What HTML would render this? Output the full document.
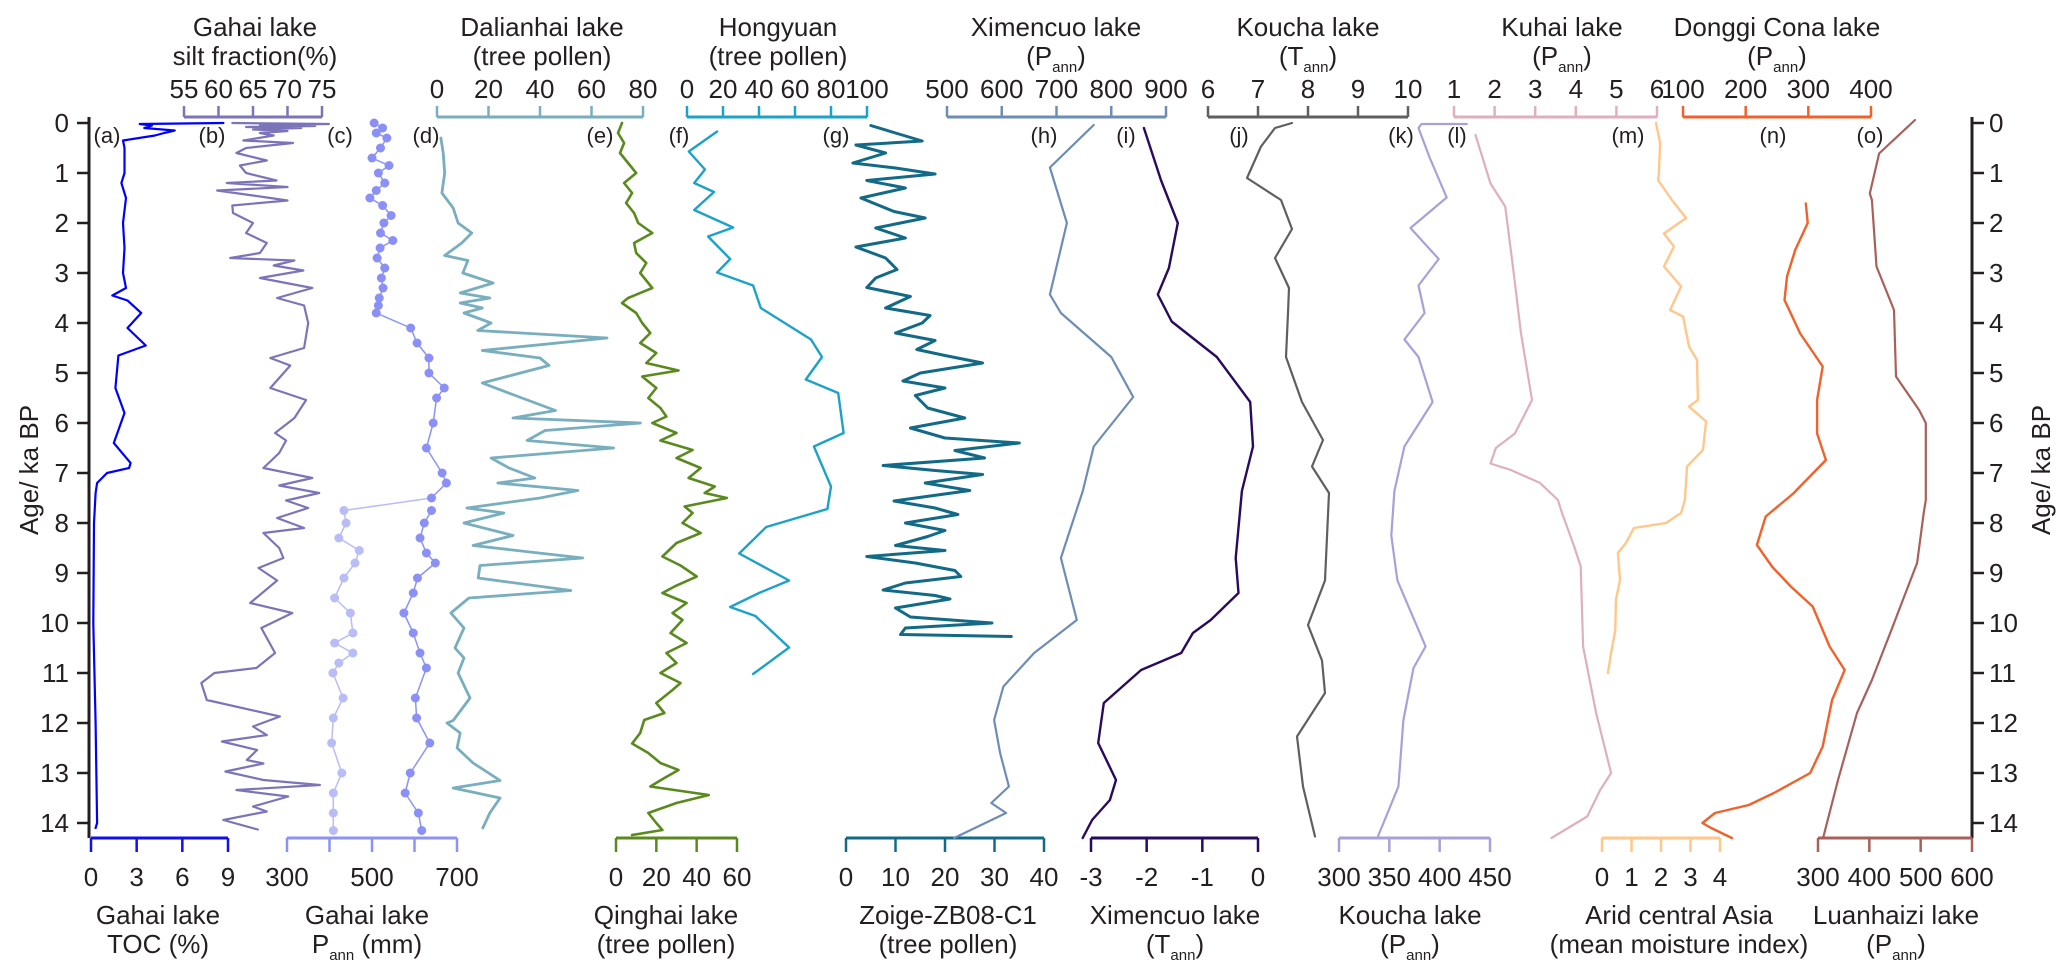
<!DOCTYPE html>
<html><head><meta charset="utf-8"><style>
html,body{margin:0;padding:0;background:#fff;}
svg{display:block;font-family:"Liberation Sans",Arial,sans-serif;}
</style></head><body>
<svg id="chart" width="2067" height="976" viewBox="0 0 2067 976" xmlns="http://www.w3.org/2000/svg">
<g id="axes"></g>
<g id="series"></g>
<g id="labels"></g>
</svg>
<script>
// ---------- data (age in ka BP, values in panel units) ----------
const ageTicks = [0,1,2,3,4,5,6,7,8,9,10,11,12,13,14];

const tocAge = [0,0.02,0.05,0.1,0.15,0.2,0.25,0.35,0.5,1,1.2,1.5,2,2.5,3,3.3,3.45,3.55,3.8,4.1,4.45,4.65,5.3,5.8,6.4,6.8,6.9,7.0,7.2,7.4,8,10,12,14,14.1];
const tocVal = [8.7,3.2,4,3.5,5.5,4.8,4.2,2.1,2.2,2.2,2.0,2.3,2.1,2.2,2.1,2.3,1.4,2.4,3.3,2.4,3.6,1.8,1.6,2.2,1.5,2.6,2.5,1.05,0.4,0.3,0.2,0.15,0.3,0.4,0.3];

const siltAge = [0,0.02,0.04,0.06,0.08,0.1,0.13,0.16,0.2,0.25,0.35,0.4,0.5,0.6,0.75,0.85,1.0,1.15,1.2,1.28,1.35,1.45,1.55,1.65,1.8,2.0,2.2,2.4,2.6,2.7,2.75,2.85,2.95,3.1,3.3,3.5,3.65,4.0,4.5,4.7,4.85,5.3,5.54,5.9,6.2,6.35,6.6,6.9,7.1,7.25,7.4,7.55,7.7,7.9,8.1,8.2,8.5,8.7,8.9,9.15,9.6,9.8,10.1,10.6,10.9,11.0,11.2,11.54,11.87,12.07,12.24,12.37,12.54,12.74,12.81,12.97,13.14,13.24,13.34,13.47,13.67,13.77,13.94,14.13];
const siltVal = [62,76,66,74,64,72,65,70,66,68,63.6,70.8,64,62.6,67,63.1,64,68.4,61.2,70,59.8,65,70,62,62.1,65,64,67,66,61.7,71,68,72.3,66,73.6,68.5,72.4,73,72.4,67.5,70.4,67.5,72.7,71,68.2,69.8,68.8,66.5,73.6,68.8,74.6,69.8,73,68.5,72.4,66.5,68.8,69.4,65.8,68.5,64.6,70.7,66.2,68.2,65.5,59.4,57.5,58.3,68.9,65,67,60.5,65.6,64.1,66.5,61,66.5,74.7,62.6,70.1,65,67,60.7,65.7];

const gpDarkAge = [0,0.1,0.2,0.3,0.5,0.7,0.85,1.0,1.2,1.35,1.5,1.65,1.85,2.0,2.2,2.35,2.5,2.7,2.9,3.1,3.3,3.5,3.65,3.8,4.1,4.4,4.7,5.0,5.3,5.5,6.0,6.5,7.0,7.2,7.5];
const gpDarkVal = [505,525,510,535,520,500,540,515,530,510,495,525,545,528,520,549,519,512,530,522,526,517,515,510,591,606,634,634,670,652,644,628,665,675,640];
const gpLightAge = [7.5,7.75,8.0,8.3,8.55,8.8,9.1,9.5,9.8,10.2,10.4,10.6,10.8,11.0,11.5,11.9,12.4,13.0,13.4,13.8,14.15];
const gpLightVal = [640,434,439,422,470,460,434,412,449,455,412,455,422,408,432,409,405,429,409,409,409];
const gpLowerAge = [7.75,8.0,8.3,8.6,8.8,9.1,9.4,9.8,10.2,10.6,10.9,11.5,11.9,12.4,13.0,13.4,13.8,14.15];
const gpLowerVal = [640,623,613,628,649,607,597,575,597,613,628,602,605,636,590,578,609,617];

const dalAge = [0.3,0.6,1.0,1.4,1.7,2.0,2.2,2.4,2.65,2.75,3.0,3.2,3.4,3.5,3.6,3.7,3.8,4.0,4.15,4.3,4.55,4.7,4.85,5.2,5.5,5.75,5.9,6.0,6.15,6.35,6.5,6.7,6.9,7.1,7.2,7.35,7.5,7.7,7.8,8.0,8.25,8.45,8.7,8.85,9.1,9.35,9.5,9.8,10.1,10.5,10.7,11.0,11.5,11.95,12.0,12.2,12.5,12.8,13.15,13.3,13.5,13.8,14.1];
const dalVal = [1.5,2.4,3,1.9,6.3,8.2,13.5,9.6,3,12,10,21.8,9,20.5,9,17.6,10.5,21,15.8,66,17.6,40,43.5,17.6,33,46,29.5,79,42,35,68.6,21,28,38,23.6,54.7,40,11.6,26,10.5,29.5,14,56.6,16.7,16,52,12.4,5.4,10.5,7,10.5,8.2,12.8,6.3,3.9,9,7.8,14,24.5,6.3,24.5,20.5,17.8];

const qhAge = [0,0.2,0.4,0.6,0.8,1.0,1.2,1.4,1.6,1.8,2.0,2.2,2.4,2.6,2.8,3.0,3.3,3.5,3.6,3.8,4.0,4.2,4.4,4.6,4.8,4.95,5.07,5.3,5.5,5.7,5.87,6.0,6.2,6.35,6.54,6.7,6.9,7.1,7.27,7.4,7.5,7.67,7.8,8.0,8.2,8.4,8.67,8.85,9.07,9.25,9.4,9.6,9.8,9.94,10.2,10.4,10.6,10.8,11.0,11.2,11.34,11.6,11.8,11.94,12.2,12.41,12.6,12.8,12.94,13.1,13.27,13.44,13.6,13.8,14.0,14.14,14.24];
const qhVal = [3,1,4,2,6,10,4,8,5,9,11,18,9,10,15,12,18,6,3,10,13,17,12,20,15,31,13,20,16,22,25,18,30,22,38,30,42,36,49,44,55,34,38,33,42,30,23,32,40,30,23,35,28,33,27,35,25,30,22,32,28,20,24,14,12,8,16,22,31,24,17,46,30,16,20,23,8];

const hyAge = [0.17,0.57,0.93,1.2,1.38,1.74,2.09,2.27,2.72,2.99,3.25,3.7,4.33,4.68,5.13,5.4,6.2,6.47,7.27,7.72,8.08,8.61,9.15,9.4,9.68,9.86,10.49,11.02];
const hyVal = [16.7,1,10,4,15,4,25.6,11.7,24,16.7,36.7,41,68.9,75,66,84,87,70.5,80,78,44,29,56.7,40,24,38,56.7,36.7];

const zgAge = [0.05,0.2,0.36,0.44,0.6,0.8,0.9,1.02,1.15,1.3,1.5,1.77,1.9,2.1,2.3,2.48,2.7,2.93,3.1,3.29,3.47,3.7,3.85,4.0,4.2,4.35,4.53,4.65,4.8,5.0,5.16,5.3,5.45,5.7,5.9,6.1,6.3,6.4,6.55,6.7,6.85,6.95,7.03,7.2,7.35,7.56,7.7,7.83,8.0,8.15,8.27,8.45,8.55,8.67,8.8,8.95,9.07,9.2,9.34,9.45,9.52,9.7,9.88,10.0,10.1,10.23,10.27];
const zgVal = [5,10,15.4,2,8,1.4,10,18,4.2,12,3,9.7,16,6,12,2,8,10.3,6,4.2,13,8,17,15.4,10,18,14.3,20,27.6,15,11.5,20,14,16.5,24,13,20,35,22,28,7.5,18,27.6,16,25,9.7,18,22.6,12,20,16.5,10,20,4.2,14,22,23.2,12,7.5,18,21,10,13,29.5,12,11,33.4];

const xpAge = [0.04,0.89,2.0,3.43,3.8,4.68,5.48,6.47,7.36,8.7,9.94,10.6,11.27,11.94,12.6,13.27,13.6,13.8,14.3];
const xpVal = [768,688,719,688,708,800,840,768,748,708,737,659,603,586,597,613,581,608,513];

const xtAge = [0.1,1.15,2.0,2.9,3.43,3.97,4.68,5.58,6.47,7.36,8.7,9.4,9.94,10.2,10.6,10.94,11.6,12.4,13.14,13.54,13.94,14.3];
const xtVal = [-2.05,-1.74,-1.44,-1.6,-1.8,-1.55,-0.74,-0.14,-0.09,-0.29,-0.4,-0.35,-0.85,-1.17,-1.38,-2.1,-2.77,-2.87,-2.55,-2.66,-2.98,-3.15];

const ktAge = [0.0,0.1,0.47,1.1,1.54,2.12,2.7,3.3,3.8,4.68,5.58,6.34,6.87,7.4,9.15,10.04,10.75,11.4,12.27,13.27,14.27];
const ktVal = [7.68,7.34,7.06,6.78,7.46,7.68,7.34,7.62,7.6,7.56,7.88,8.3,8.08,8.42,8.34,8.0,8.28,8.34,7.78,7.9,8.14];

const kpAge = [0.02,0.02,0.1,0.69,1.49,2.1,2.72,3.25,3.8,4.33,4.68,5.58,6.47,7.36,8.25,9.15,10.47,10.9,11.94,13.27,14.3];
const kpVal = [427,382,379,390,407,371,399,379,385,365,379,393,365,355,352,358,386,374,364,359,338];

const khAge = [0.24,1.21,1.67,2.87,4.21,5.54,6.21,6.5,6.81,6.94,7.2,7.54,7.8,8.47,8.87,10.47,11.8,13.0,13.34,13.87,14.3];
const khVal = [1.53,1.9,2.26,2.45,2.65,2.92,2.5,2.03,1.9,2.4,3.12,3.56,3.66,3.96,4.12,4.18,4.5,4.87,4.6,4.28,3.4];

const acaAge = [0.0,0.4,1.0,1.14,1.54,1.9,2.21,2.47,2.87,3.27,3.74,3.87,4.47,4.74,5.54,5.67,5.97,6.54,6.87,7.54,7.8,8.0,8.1,8.4,8.6,9.14,9.54,10.14,10.6,11.0];
const acaVal = [1.83,1.97,1.93,1.9,2.37,2.85,2.1,2.44,2.1,2.68,2.31,2.75,2.95,3.22,3.25,2.95,3.53,3.42,2.88,2.81,2.68,2.17,1.08,0.81,0.54,0.61,0.47,0.45,0.31,0.2];

const dcAge = [1.61,2.0,2.54,3.07,3.54,4.21,4.87,5.54,6.21,6.74,7.41,7.87,8.44,8.87,9.27,9.67,10.47,10.94,11.54,12.47,13.0,13.4,13.64,13.8,14.0,14.1,14.3];
const dcVal = [296,299,279,266,262,287,323,314,314,328,276,232,218,242,272,307,334,358,338,323,303,245,205,151,131,145,178];

const lhAge = [-0.06,0.61,1.41,1.54,2.87,3.74,5.07,5.74,6.0,7.54,7.8,8.8,9.47,10.14,11.14,11.8,13.14,14.3];
const lhVal = [489,419,401,405,414,448,452,497,510,510,506,493,468,443,405,376,339,310];

// ---------- layout ----------
const NS = "http://www.w3.org/2000/svg";
const Y0 = 123, KA = 50, TOP = 117, BOT = 838;
function yAge(a){ return Y0 + KA*a; }
function lin(v0,v1,x0,x1){ return v => x0 + (v-v0)/(v1-v0)*(x1-x0); }
const axesG = document.getElementById('axes');
const seriesG = document.getElementById('series');
const labelsG = document.getElementById('labels');

function mk(tag, attrs, parent){
  const el = document.createElementNS(NS, tag);
  for (const k in attrs) el.setAttribute(k, attrs[k]);
  parent.appendChild(el);
  return el;
}
function txt(str, x, y, size, parent, anchor){
  const t = mk('text', {x:x, y:y, 'font-size':size, 'text-anchor':anchor||'middle', fill:'#231f20'}, parent);
  t.textContent = str;
  return t;
}
function titleWithSub(line1, pre, sub, post, cx, y1, y2, parent, name){
  const g = mk('g', {}, parent);
  
  
  txt(line1, cx, y1, 26, g);
  const t = mk('text', {x:cx, y:y2, 'font-size':26, 'text-anchor':'middle', fill:'#231f20'}, g);
  const a = mk('tspan', {}, t); a.textContent = pre;
  if (sub){
    const s = mk('tspan', {'font-size':15, dy:7}, t); s.textContent = sub;
    const b = mk('tspan', {dy:-7}, t); b.textContent = post;
  }
  return g;
}
function hAxis(scale, ticks, labels, color, top, name){
  const g = mk('g', {}, axesG);
  
  
  const y = top ? TOP : BOT;
  const dir = top ? -11 : 14;
  const x0 = scale(ticks[0]), x1 = scale(ticks[ticks.length-1]);
  mk('line', {x1:x0, x2:x1, y1:y, y2:y, stroke:color, 'stroke-width':3}, g);
  ticks.forEach(v => {
    mk('line', {x1:scale(v), x2:scale(v), y1:y, y2:y+dir, stroke:color, 'stroke-width':2.5}, g);
  });
  labels.forEach(v => {
    const t = txt(String(v), scale(v), top ? 98 : 886, 26, g);
    
    
  });
}
function drawLine(ages, vals, scale, color, width, name){
  let d = '';
  for (let i=0;i<ages.length;i++){
    d += (i? 'L':'M') + scale(vals[i]).toFixed(1) + ',' + yAge(ages[i]).toFixed(1);
  }
  const p = mk('path', {d:d, fill:'none', stroke:color, 'stroke-width':width, 'stroke-linejoin':'round', 'stroke-linecap':'round'}, seriesG);
  
  
  return p;
}
function drawDots(ages, vals, scale, color, name){
  for (let i=0;i<ages.length;i++){
    const c = mk('circle', {cx:scale(vals[i]), cy:yAge(ages[i]), r:4.5, fill:color}, seriesG);
    
    
  }
}

// scales
const sA = lin(0,9,91,228), sB = lin(55,75,184,322), sC = lin(300,700,287,457);
const sD = lin(0,80,437,643), sE = lin(0,60,616,737), sF = lin(0,100,687,867);
const sG = lin(0,40,846,1044), sH = lin(500,900,947,1166), sI = lin(-3,0,1091,1258);
const sJ = lin(6,10,1208,1408), sK = lin(300,450,1339,1490), sL = lin(1,6,1454,1657);
const sM = lin(0,4,1602,1720), sN = lin(100,400,1683,1871), sO = lin(300,600,1818,1972);

// age axes
['left','right'].forEach(side => {
  const g = mk('g', {}, axesG);
  
  
  const x = side==='left' ? 89 : 1972;
  mk('line', {x1:x, x2:x, y1:TOP, y2:BOT, stroke:'#231f20', 'stroke-width':3}, g);
  ageTicks.forEach(a => {
    const y = yAge(a);
    mk('line', {x1:x, x2: side==='left'? x-12 : x+12, y1:y, y2:y, stroke:'#231f20', 'stroke-width':2.5}, g);
    const t = txt(String(a), side==='left' ? 69 : 1989, y+9, 26, g, side==='left'?'end':'start');
    
    
  });
});
const lt = txt('Age/ ka BP', 0, 0, 26, labelsG);
lt.setAttribute('transform', 'translate(38,470) rotate(-90)');


const rt = txt('Age/ ka BP', 0, 0, 26, labelsG);
rt.setAttribute('transform', 'translate(2050,470) rotate(-90)');



// panel axes
hAxis(sA, [0,3,6,9], [0,3,6,9], '#1010ee', false, 'toc-axis');
hAxis(sB, [55,60,65,70,75], [55,60,65,70,75], '#7b74b8', true, 'silt-axis');
hAxis(sC, [300,400,500,600,700], [300,500,700], '#8c93f3', false, 'gahai-pann-axis');
hAxis(sD, [0,20,40,60,80], [0,20,40,60,80], '#78aebd', true, 'dalianhai-axis');
hAxis(sE, [0,20,40,60], [0,20,40,60], '#5a8a1e', false, 'qinghai-axis');
hAxis(sF, [0,20,40,60,80,100], [0,20,40,60,80,100], '#1ca2c9', true, 'hongyuan-axis');
hAxis(sG, [0,10,20,30,40], [0,10,20,30,40], '#126a87', false, 'zoige-axis');
hAxis(sH, [500,600,700,800,900], [500,600,700,800,900], '#6d8db5', true, 'ximencuo-pann-axis');
hAxis(sI, [-3,-2,-1,0], [-3,-2,-1,0], '#2a0a5e', false, 'ximencuo-tann-axis');
hAxis(sJ, [6,7,8,9,10], [6,7,8,9,10], '#5f5f5f', true, 'koucha-tann-axis');
hAxis(sK, [300,350,400,450], [300,350,400,450], '#a9a0d8', false, 'koucha-pann-axis');
hAxis(sL, [1,2,3,4,5,6], [1,2,3,4,5,6], '#deb0bd', true, 'kuhai-axis');
hAxis(sM, [0,1,2,3,4], [0,1,2,3,4], '#ffc78a', false, 'aca-axis');
hAxis(sN, [100,200,300,400], [100,200,300,400], '#f0622a', true, 'donggi-axis');
hAxis(sO, [300,400,500,600], [300,400,500,600], '#a8605a', false, 'luanhaizi-axis');

// series
drawLine(tocAge, tocVal, sA, '#0000ff', 2.2, 'toc-line');
drawLine(siltAge, siltVal, sB, '#7b74b8', 2.2, 'silt-line');
drawLine(gpDarkAge, gpDarkVal, sC, '#8c93f3', 1.5, 'gahai-pann-line');
drawLine(gpLowerAge, gpLowerVal, sC, '#8c93f3', 1.5, 'gahai-pann-lower-line');
drawLine(gpLightAge, gpLightVal, sC, '#b8bcf7', 1.5, 'gahai-pann-light-line');
drawDots(gpDarkAge, gpDarkVal, sC, '#8a90f5', 'gahai-pann-dot');
drawDots(gpLowerAge, gpLowerVal, sC, '#8a90f5', 'gahai-pann-dot');
drawDots(gpLightAge.slice(1), gpLightVal.slice(1), sC, '#b8bcf7', 'gahai-pann-light-dot');
drawLine(dalAge, dalVal, sD, '#78aebd', 2.8, 'dalianhai-line');
drawLine(qhAge, qhVal, sE, '#5a8a1e', 2.6, 'qinghai-line');
drawLine(hyAge, hyVal, sF, '#1ca2c9', 2.4, 'hongyuan-line');
drawLine(zgAge, zgVal, sG, '#126a87', 3, 'zoige-line');
drawLine(xpAge, xpVal, sH, '#6d8db5', 2.2, 'ximencuo-pann-line');
drawLine(xtAge, xtVal, sI, '#2a0a5e', 2.4, 'ximencuo-tann-line');
drawLine(ktAge, ktVal, sJ, '#5f5f5f', 2.2, 'koucha-tann-line');
drawLine(kpAge, kpVal, sK, '#a9a0d8', 2.2, 'koucha-pann-line');
drawLine(khAge, khVal, sL, '#deb0bd', 2.2, 'kuhai-line');
drawLine(acaAge, acaVal, sM, '#ffc78a', 2.4, 'aca-line');
drawLine(dcAge, dcVal, sN, '#f0622a', 2.4, 'donggi-line');
drawLine(lhAge, lhVal, sO, '#a8605a', 2.2, 'luanhaizi-line');

// panel letters
const letters = [['(a)',107],['(b)',212],['(c)',340],['(d)',426],['(e)',600],['(f)',679],['(g)',836],['(h)',1044],['(i)',1126],['(j)',1239],['(k)',1401],['(l)',1457],['(m)',1628],['(n)',1773],['(o)',1870]];
letters.forEach(l => {
  const t = txt(l[0], l[1], 143, 22, labelsG);
  
  
});

// titles (top)
titleWithSub('Gahai lake','silt fraction(%)','','',255,36,65,labelsG,'silt-title');
titleWithSub('Dalianhai lake','(tree pollen)','','',542,36,65,labelsG,'dalianhai-title');
titleWithSub('Hongyuan','(tree pollen)','','',778,36,65,labelsG,'hongyuan-title');
titleWithSub('Ximencuo lake','(P','ann',')',1056,36,65,labelsG,'ximencuo-pann-title');
titleWithSub('Koucha lake','(T','ann',')',1308,36,65,labelsG,'koucha-tann-title');
titleWithSub('Kuhai lake','(P','ann',')',1562,36,65,labelsG,'kuhai-title');
titleWithSub('Donggi Cona lake','(P','ann',')',1777,36,65,labelsG,'donggi-title');
// titles (bottom)
titleWithSub('Gahai lake','TOC (%)','','',158,924,953,labelsG,'toc-title');
titleWithSub('Gahai lake','P','ann',' (mm)',367,924,953,labelsG,'gahai-pann-title');
titleWithSub('Qinghai lake','(tree pollen)','','',666,924,953,labelsG,'qinghai-title');
titleWithSub('Zoige-ZB08-C1','(tree pollen)','','',948,924,953,labelsG,'zoige-title');
titleWithSub('Ximencuo lake','(T','ann',')',1175,924,953,labelsG,'ximencuo-tann-title');
titleWithSub('Koucha lake','(P','ann',')',1410,924,953,labelsG,'koucha-pann-title');
titleWithSub('Arid central Asia','(mean moisture index)','','',1679,924,953,labelsG,'aca-title');
titleWithSub('Luanhaizi lake','(P','ann',')',1896,924,953,labelsG,'luanhaizi-title');
</script>
</body></html>
